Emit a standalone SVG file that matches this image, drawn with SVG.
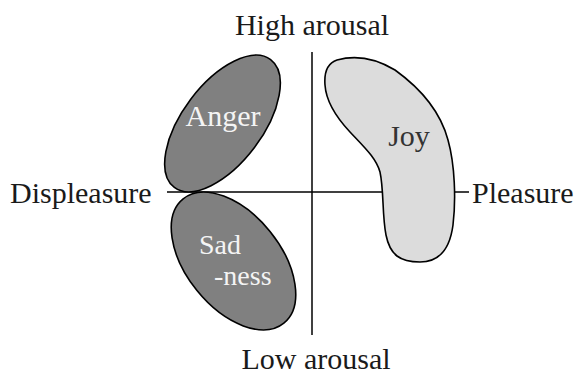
<svg xmlns="http://www.w3.org/2000/svg" width="576" height="375" viewBox="0 0 576 375">
<style>
.axis{stroke:#000;stroke-width:1.5;fill:none}
.dark{fill:#808080;stroke:#000;stroke-width:1.6}
.light{fill:#dcdcdc;stroke:#000;stroke-width:1.6}
text{font-family:"Liberation Serif","Times New Roman",serif;font-size:30px}
.lbl{fill:#1a1a1a}
.wt{fill:#f4f4f4}
.sm{font-size:28px}
.jt{fill:#333}
</style>
<rect width="576" height="375" fill="#fff"/>
<g id="connectors">
<line class="axis" x1="167" y1="192" x2="469" y2="192"/>
<line class="axis" x1="312" y1="52" x2="312" y2="335"/>
</g>
<g id="anger">
<ellipse class="dark" cx="222.5" cy="123.5" rx="80" ry="40" transform="rotate(-53 222.5 123.5)"/>
<text class="wt" x="223" y="126" text-anchor="middle">Anger</text>
</g>
<g id="sadness">
<ellipse class="dark" cx="233.5" cy="261" rx="80" ry="47" transform="rotate(51 233.5 261)"/>
<text class="wt sm" x="199" y="254">Sad</text>
<text class="wt sm" x="214" y="285">-ness</text>
</g>
<g id="joy">
<path class="light" d="M337,60 C355,55 375,58 395,70 C420,88 440,110 448,140 C455,165 456,200 453,225 C450,248 440,262 420,262 C400,262 390,255 386,235 C382,215 384,190 380,172 C376,158 365,148 350,132 C335,116 326,100 325,85 C324,72 328,63 337,60 Z"/>
<text class="jt" x="409" y="146" text-anchor="middle">Joy</text>
</g>
<g id="high-arousal"><text class="lbl" x="312" y="35" text-anchor="middle">High arousal</text></g>
<g id="low-arousal"><text class="lbl" x="316" y="369" text-anchor="middle">Low arousal</text></g>
<g id="displeasure"><text class="lbl" x="10" y="203">Displeasure</text></g>
<g id="pleasure"><text class="lbl" x="472" y="203">Pleasure</text></g>
</svg>
